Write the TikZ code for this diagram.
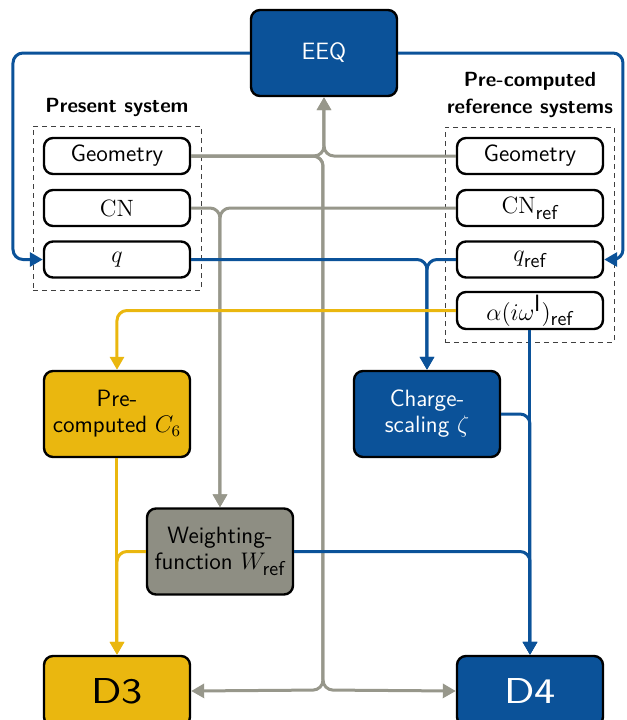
\documentclass[tikz,border=0pt]{standalone}
\usepackage{fontspec}
\usepackage{graphicx}
\usetikzlibrary{arrows.meta}
\definecolor{kblue}{HTML}{0B5299}
\definecolor{kyellow}{HTML}{EAB70F}
\definecolor{kgrayfill}{HTML}{8E8E83}
\definecolor{kgrayline}{HTML}{97978B}
\newcommand{\rf}{\mbox{\sffamily\fontsize{10}{10}\selectfont ref}}
\begin{document}
\begin{tikzpicture}[x=0.5pt,y=-0.5pt,
  box/.style={draw=black, line width=1.2pt, rounded corners=4.5pt, minimum width=73pt, inner sep=0pt, align=center,
     font=\sffamily\fontsize{11.8}{13}\selectfont},
  smallbox/.style={box, fill=white, minimum height=18pt},
  bigbox/.style={box, minimum height=43pt},
  dbox/.style={box, minimum height=35pt, font=\sffamily\fontsize{18}{20}\selectfont},
  conn/.style={line width=1.5pt, rounded corners=5pt},
  arr/.style={-{Triangle[length=6.5pt,width=7pt]}},
  grp/.style={draw=black!75, line width=0.45pt, dash pattern=on 2.5pt off 2pt},
  lbl/.style={align=center, font=\sffamily\bfseries\fontsize{10.25}{13.5}\selectfont}
]
\useasboundingbox (0,0) rectangle (627,720);
\clip (0,0) rectangle (627,720);

% group frames
\node[grp, minimum width=84pt, minimum height=82pt, inner sep=0pt] (gl) at (117,208) {};
\node[grp, minimum width=84.5pt, minimum height=107.5pt, inner sep=0pt] (gr) at (529.5,234.5) {};
\node[lbl] (tl) at (117,107) {Present system};
\node[lbl] (tr) at (530,95) {Pre-computed\\reference systems};

% nodes
\node[bigbox, fill=kblue, text=white] (eeq) at (324,53) {EEQ};
\node[smallbox] (lgeo) at (117,156) {Geometry};
\node[smallbox] (lcn) at (117,208) {$\mathrm{CN}$};
\node[smallbox] (lq) at (117,259.5) {$q$};
\node[smallbox] (rgeo) at (530,156) {Geometry};
\node[smallbox] (rcn) at (530,208) {$\mathrm{CN}_{\rf}$};
\node[smallbox] (rq) at (530,259.5) {$q_{\rf}$};
\node[smallbox, minimum height=18.5pt] (ral) at (530,310.5) {$\alpha(i\omega^{\textsf{I}})_{\rf}$};
\node[bigbox, fill=kyellow] (c6) at (117,414) {Pre-\\computed $C_6$};
\node[bigbox, fill=kblue, text=white] (cs) at (427,414) {Charge-\\scaling $\zeta$};
\node[bigbox, fill=kgrayfill] (wf) at (220,551.5) {Weighting-\\function $W_{\rf}$};
\node[dbox, fill=kyellow] (d3) at (117,691) {\scalebox{1.25}[1]{D3}};
\node[dbox, fill=kblue, text=white] (d4) at (530,691) {\scalebox{1.25}[1]{D4}};

\coordinate (lc1) at (13,53);
\coordinate (lc2) at (13,259.5);
\coordinate (rc1) at (623,53);
\coordinate (rc2) at (623,259.5);
\coordinate (gbot) at (323,690);

% gray connectors
\draw[conn, kgrayline, arr] (lgeo.east) -| (eeq.south);
\draw[conn, kgrayline, arr] (rgeo.west) -| (eeq.south);
\draw[conn, kgrayline, arr] (lgeo.east) -| (gbot) -- (d3.east);
\draw[conn, kgrayline, arr] (lgeo.east) -| (gbot) -- (d4.west);
\draw[conn, kgrayline, arr] (lcn.east) -| (wf.north);
\draw[conn, kgrayline, arr] (rcn.west) -| (wf.north);

% blue connectors
\draw[conn, kblue, arr] (eeq.west) -- (lc1) -- (lc2) -- (lq.west);
\draw[conn, kblue, arr] (eeq.east) -- (rc1) -- (rc2) -- (rq.east);
\draw[conn, kblue, arr] (lq.east) -| (cs.north);
\draw[conn, kblue, arr] (rq.west) -| (cs.north);
\draw[conn, kblue, arr] (ral.south) -- (d4.north);
\draw[conn, kblue, arr] (cs.east) -| (d4.north);
\draw[conn, kblue, arr] (wf.east) -| (d4.north);

% yellow connectors
\draw[conn, kyellow, arr] (ral.west) -| (c6.north);
\draw[conn, kyellow, arr] (c6.south) -- (d3.north);
\draw[conn, kyellow, arr] (wf.west) -| (d3.north);
\end{tikzpicture}
\end{document}
